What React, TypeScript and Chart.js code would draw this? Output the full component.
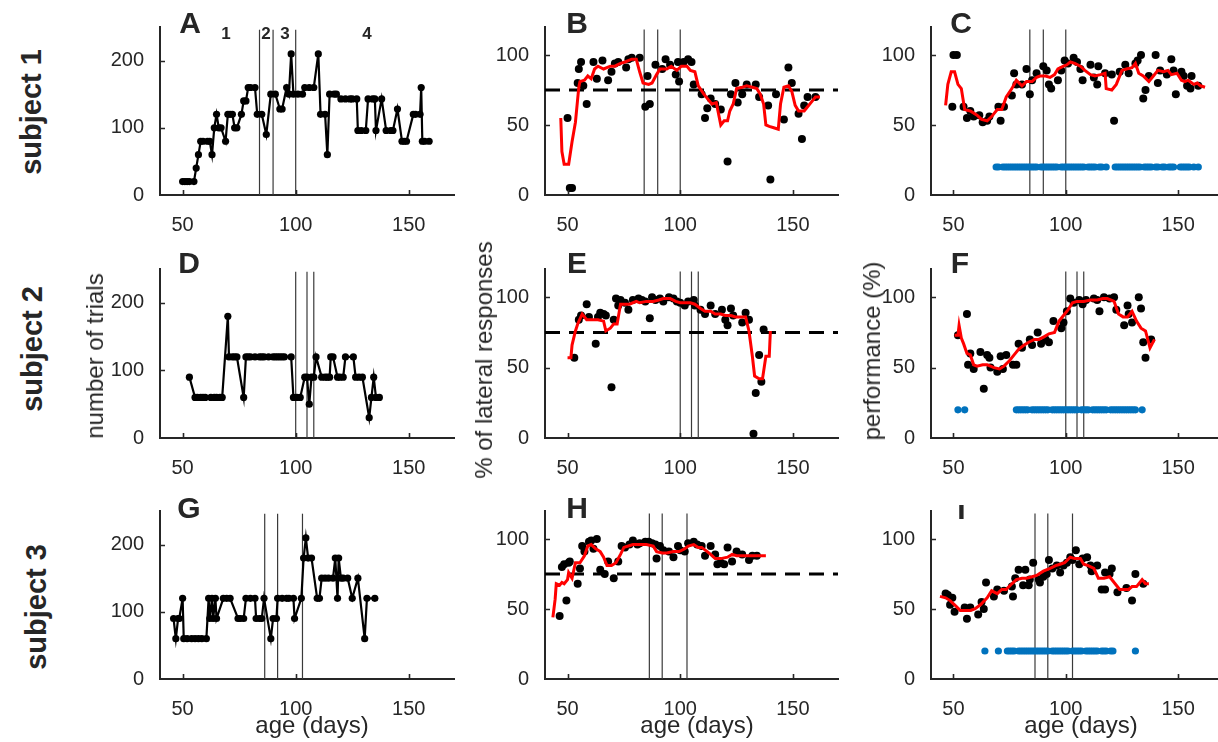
import { useEffect, useRef } from "react";
import { Chart, registerables } from "chart.js";

Chart.register(...registerables);

type Pt = [number, number];

// ---------------- data ----------------
const AGE_TICKS = [50, 100, 150];
const TRIAL_TICKS = [0, 100, 200];
const PCT_TICKS = [0, 50, 100];
const LATERAL_CRITERION = 75;
const MARK_LEVEL = 20;

// stage boundaries (age in days)
const boundsS1 = [84, 90, 100];
const boundsS2 = [100, 105, 108];
const boundsS3 = [86.3, 92, 103];

// number of trials per session
const trialsS1: Pt[] = [
  [50, 20], [51, 20], [52, 20], [53, 20], [55, 20], [56, 40], [57, 60], [58, 80], [59, 80], [61, 80],
  [62, 80], [63, 60], [64, 100], [65, 120], [66, 100], [67, 100], [69, 80], [70, 120], [71, 120], [72, 120],
  [73, 100], [74, 100], [76, 120], [77, 140], [78, 140], [79, 160], [80, 160], [82, 160], [83, 120], [85, 120],
  [87, 90], [89, 150], [91, 150], [93, 128], [94, 128], [96, 160], [97, 150], [98, 210], [99, 150], [101, 150],
  [103, 150], [104, 160], [106, 160], [108, 160], [110, 210], [111, 120], [113, 120], [114, 60], [115, 150],
  [117, 150], [118, 150], [120, 143], [122, 143], [124, 143], [125, 143], [127, 143], [127.5, 96], [129, 96],
  [131, 96], [132, 143], [134, 143], [135, 143], [135.5, 96], [138, 143], [140, 96], [142, 96], [143, 96],
  [145, 128], [147, 80], [148, 80], [149, 80], [152, 120], [153, 120], [155, 120], [155.5, 160], [156, 80],
  [157, 80], [159, 80],
];
const trialsS2: Pt[] = [
  [53, 90], [55.5, 60], [56.5, 60], [58, 60], [59, 60], [60, 60], [62.5, 60], [64, 60], [65, 60], [66.5, 60],
  [67.5, 60], [70, 180], [70.5, 120], [72, 120], [73, 120], [74, 120], [77, 60], [78, 120], [79, 120], [80, 120],
  [82, 120], [84, 120], [85, 120], [86, 120], [88, 120], [90, 120], [91, 120], [92, 120], [93, 120], [94, 120],
  [95, 120], [98, 120], [99, 60], [100.5, 60], [102, 60], [104, 90], [105, 90], [106, 50], [107, 90], [108, 90],
  [109, 120], [111.5, 90], [113, 90], [114, 90], [115, 90], [115.5, 120], [116.5, 120], [118.5, 90], [119.5, 90],
  [121, 90], [122, 120], [125.5, 120], [126.5, 90], [128, 90], [129.5, 90], [132.5, 30], [133.5, 60], [134.5, 90],
  [135.5, 60], [137, 60],
];
const trialsS3: Pt[] = [
  [46, 90], [47, 60], [48, 90], [48.5, 90], [50, 120], [50.5, 60], [52, 60], [54, 60], [55.5, 60], [57, 60],
  [58.5, 60], [60.5, 60], [61.5, 120], [62, 90], [63, 120], [63.5, 90], [64.5, 120], [65, 90], [68, 120],
  [69.5, 120], [71, 120], [74.5, 90], [75.5, 90], [77, 90], [78, 120], [80, 120], [82, 120], [82.5, 90], [84, 90],
  [85, 90], [86, 120], [89, 60], [90, 90], [91.5, 90], [92, 120], [94, 120], [96, 120], [97, 120], [99, 120],
  [99.5, 90], [102.5, 120], [103.5, 180], [104.5, 210], [105.5, 180], [107, 180], [109.5, 120], [110.5, 120],
  [111.5, 150], [113, 150], [114.5, 150], [116.5, 150], [117.5, 180], [118.5, 120], [119, 180], [120, 150],
  [121, 150], [123, 150], [125, 120], [127.5, 150], [130.5, 60], [131.5, 120], [135, 120],
];

// % of lateral responses: sessions and running average
const lateralS1: Pt[] = [
  [50, 55], [51, 5], [52, 5], [54.5, 80], [55, 90], [56, 95], [57, 78], [58.5, 65], [61.5, 95], [63, 83],
  [65.5, 96], [68, 82], [69.5, 88], [71, 94], [72.5, 95], [76, 91], [77, 97], [78.5, 98], [82, 98], [84.5, 63],
  [85.5, 85], [86.5, 65], [89, 93], [92, 90], [93.5, 97], [95.5, 93], [98, 86], [99, 95], [99.5, 81], [101.5, 95],
  [103.5, 97], [105, 95], [106, 79], [109.5, 72], [111, 55], [112, 62], [113.5, 69], [115.5, 65], [118, 61],
  [121, 24], [122.5, 72], [124.5, 80], [125.5, 66], [127.5, 72], [129.5, 79], [133.5, 79], [135, 70], [139, 64],
  [140, 11], [142.5, 72], [146, 54], [148, 91], [149.5, 80], [152.5, 58], [154, 40], [155, 64], [156.5, 70],
  [160, 70],
];
const lateralAvgS1: Pt[] = [
  [47, 55], [47.5, 31], [48.5, 22], [50.5, 22], [52, 38], [53.5, 52], [55, 77], [55.5, 81], [57.5, 82], [59, 85],
  [60.5, 83], [62, 90], [63.5, 92], [66, 90], [69, 92], [71, 92], [73.5, 94], [75.5, 95], [78.5, 97], [80.5, 97],
  [82, 88], [83.5, 80], [86, 79], [87.5, 80], [89.5, 86], [91, 90], [94, 90], [96, 92], [98.5, 89], [100.5, 92],
  [103, 92], [104.5, 89], [106.5, 88], [108, 78], [110.5, 72], [112, 69], [114, 65], [116, 66], [118, 50],
  [119.5, 53], [121, 53], [122, 60], [123.5, 65], [125, 76], [127.5, 77], [129.5, 78], [132, 77], [134, 76],
  [135.5, 72], [137, 65], [138, 50], [139.5, 49], [141.5, 48], [143.5, 47], [144.5, 65], [146, 77], [148, 78],
  [149.5, 74], [151, 64], [152.5, 60], [155, 60], [156.5, 63], [158, 66], [160, 70], [162, 70],
];
const lateralS2: Pt[] = [
  [53, 57], [55, 84], [56, 87], [58.5, 95], [59.5, 86], [62.5, 67], [63.5, 86], [64.5, 89], [66, 88], [67, 87],
  [69.5, 36], [70.5, 84], [71.5, 99], [72.5, 94], [73.5, 98], [75.5, 96], [77, 91], [79, 98], [81.5, 99], [83, 98],
  [84.5, 97], [86.5, 85], [87.5, 100], [89, 98], [91, 99], [92.5, 97], [95, 100], [97, 99], [98.5, 97], [100, 96],
  [102, 94], [103.5, 97], [106, 98], [106.5, 94], [109, 91], [111, 88], [113.5, 94], [115.5, 88], [118.5, 91],
  [120, 84], [121, 80], [122.5, 92], [123.5, 87], [127.5, 82], [129, 89], [130.5, 84], [132.5, 3], [133.5, 32],
  [135, 59], [136, 40], [137, 77],
];
const lateralAvgS2: Pt[] = [
  [50, 57], [51.5, 57], [52, 66], [53.5, 76], [54.5, 81], [56.5, 88], [58.5, 84], [60.5, 84], [63.5, 84], [66, 83],
  [67, 76], [69, 78], [70.5, 81], [72, 81], [73.5, 95], [75.5, 95], [77.5, 95], [80.5, 97], [82, 96], [85, 97],
  [88, 97], [90.5, 98], [92.5, 99], [95.5, 99], [98, 97], [100, 96], [102, 96], [104.5, 96], [106.5, 95], [109, 92],
  [111, 90], [113.5, 90], [115.5, 88], [118, 88], [120, 87], [122.5, 87], [124.5, 86], [126.5, 86], [129, 86],
  [130.5, 76], [132, 58], [133, 44], [135, 42], [136.5, 42], [138, 58], [139.5, 58], [140, 76],
];
const lateralS3: Pt[] = [
  [46.5, 45], [47.5, 80], [48.5, 82], [49.5, 56], [50.5, 83], [51, 84], [54.5, 68], [55.5, 79], [56.5, 95],
  [57.5, 91], [59.5, 98], [60.5, 99], [61.5, 93], [63, 100], [64.5, 78], [66.5, 75], [68, 84], [70.5, 72],
  [72.5, 84], [74, 95], [75.5, 94], [77.5, 96], [79, 99], [81, 96], [82, 97], [84.5, 98], [86, 98], [87.5, 97],
  [89, 96], [89.5, 86], [91, 95], [92.5, 92], [95, 91], [97, 87], [99, 95], [100, 92], [102, 91], [103.5, 97],
  [106, 98], [107.5, 96], [109.5, 95], [111, 88], [113.5, 95], [115.5, 89], [116.5, 82], [118, 83], [119.5, 82],
  [121, 94], [123, 84], [125, 91], [127.5, 89], [130.5, 85], [132, 88], [134, 88],
];
const lateralAvgS3: Pt[] = [
  [43.5, 44], [44.5, 57], [45, 68], [46.5, 67], [47.5, 69], [48.5, 68], [50, 71], [50.5, 76], [52, 72], [53.5, 83],
  [55.5, 83], [57.5, 88], [59, 95], [60.5, 96], [62.5, 93], [64.5, 91], [66, 87], [67.5, 81], [69.5, 81],
  [71.5, 83], [73.5, 89], [75, 94], [77, 95], [79, 96], [82, 96], [85, 96], [88, 95], [89.5, 91], [92, 90],
  [94, 90], [97, 91], [99.5, 91], [102, 93], [103.5, 95], [106, 96], [108, 94], [109.5, 94], [112, 91],
  [113.5, 89], [115.5, 86], [118, 86], [121, 87], [123, 89], [125, 88], [127.5, 88], [129.5, 88], [132, 88],
  [135, 88], [138, 88],
];

// performance (%): sessions and running average
const perfS1: Pt[] = [
  [50, 100], [51.5, 100], [49.5, 63], [54.5, 63], [56, 55], [57.5, 60], [59, 56], [61.5, 57], [63, 52], [65, 53],
  [66, 56], [70, 63], [71, 53], [72.5, 63], [76, 71], [77, 87], [78, 79], [80.5, 79], [82.5, 90], [84, 72],
  [85, 82], [87, 87], [90, 92], [91.5, 89], [92.5, 79], [93.5, 76], [96.5, 82], [98, 89], [99.5, 96], [101, 94],
  [103.5, 98], [105, 95], [106.5, 90], [107.5, 82], [111, 93], [112.5, 84], [114, 79], [114.5, 92], [117.5, 87],
  [120.5, 86], [121.5, 53], [124, 88], [126.5, 93], [128, 87], [131, 94], [132, 96], [133.5, 100], [134.5, 69],
  [135.5, 75], [137, 85], [140, 100], [141, 80], [142, 89], [145, 86], [147, 97], [148, 89], [149, 72],
  [151.5, 88], [152.5, 85], [154, 78], [155.5, 76], [156, 85], [159, 78],
];
const perfAvgS1: Pt[] = [
  [46.5, 64], [47.5, 79], [49, 88], [50.5, 88], [52, 79], [53.5, 76], [55, 61], [57.5, 60], [60.5, 57],
  [62.5, 54], [65, 53], [67, 56], [69.5, 61], [71.5, 61], [73.5, 70], [76, 76], [78, 82], [80.5, 78], [82.5, 81],
  [85, 81], [87, 84], [88.5, 85], [91, 85], [93, 84], [95, 86], [96.5, 90], [99, 92], [100.5, 93], [102, 95],
  [104, 94], [106.5, 92], [108.5, 89], [111, 86], [113, 85], [115.5, 86], [117.5, 87], [118, 76], [120.5, 75],
  [122.5, 79], [125, 89], [127, 90], [129.5, 91], [131, 94], [132.5, 87], [134.5, 85], [137, 81], [139, 85],
  [141, 89], [143.5, 88], [145.5, 89], [147, 86], [149.5, 87], [151.5, 82], [153, 81], [154.5, 82], [157, 79],
  [158.5, 80], [160, 78], [162, 77],
];
const perfS2: Pt[] = [
  [52, 73], [56, 88], [56.5, 52], [57.5, 60], [59, 49], [62, 61], [63.5, 35], [65, 59], [66, 57], [66.5, 50],
  [69.5, 47], [71, 58], [72, 49], [73.5, 59], [76.5, 52], [78, 52], [79, 67], [80.5, 64], [84, 70], [85, 66],
  [87.5, 75], [89, 67], [91, 70], [92.5, 68], [94.5, 83], [98, 78], [99, 82], [100.5, 90], [102, 99], [103.5, 96],
  [106, 98], [107.5, 95], [109, 98], [112.5, 99], [114, 98], [115, 90], [117, 100], [119.5, 99], [121.5, 100],
  [122.5, 91], [126, 80], [127.5, 94], [128, 88], [129.5, 82], [132.5, 100], [133.5, 92], [134.5, 68],
  [135.5, 57], [138, 70],
];
const perfAvgS2: Pt[] = [
  [50.5, 73], [52, 73], [52.5, 80], [53.5, 71], [54.5, 67], [56, 60], [57.5, 59], [59, 52], [60.5, 51], [63, 52],
  [65, 52], [66.5, 51], [68, 50], [70.5, 49], [72.5, 51], [75, 55], [77, 59], [79, 63], [81.5, 66], [83.5, 68],
  [86, 70], [88, 70], [90.5, 72], [92.5, 74], [95, 75], [97, 83], [99, 87], [101, 91], [103, 96], [105, 97],
  [108, 97], [111, 98], [114, 98], [116.5, 99], [118.5, 99], [121.5, 97], [123.5, 88], [125.5, 86], [127.5, 86],
  [129.5, 90], [131.5, 83], [133.5, 78], [135.5, 76], [137.5, 64], [139.5, 70],
];
const perfS3: Pt[] = [
  [46.5, 61], [47.5, 60], [48.5, 53], [49.5, 58], [50.5, 48], [55, 51], [56, 43], [57.5, 51], [61, 46],
  [62.5, 55], [63.5, 50], [64.5, 69], [68, 59], [69.5, 64], [72.5, 63], [76, 66], [76.5, 59], [77.5, 72], [79, 78],
  [81, 67], [82, 78], [83.5, 67], [84, 71], [85.5, 83], [88, 71], [88.5, 69], [90, 73], [91.5, 75], [92.5, 85],
  [94, 79], [96, 81], [97.5, 76], [99, 81], [100.5, 83], [102, 87], [103, 85], [104.5, 92], [106, 82], [107.5, 86],
  [109.5, 87], [111, 81], [111.5, 77], [114, 81], [116, 64], [117.5, 64], [117.5, 76], [119.5, 75], [120.5, 79],
  [123, 62], [127, 65], [129.5, 56], [131, 75], [134.5, 68],
];
const perfAvgS3: Pt[] = [
  [44, 59], [46.5, 58], [48.5, 56], [50.5, 53], [53, 49], [55, 49], [57.5, 49], [59.5, 50], [62, 53], [65, 58],
  [67, 63], [69.5, 61], [71.5, 64], [73.5, 64], [76, 68], [78, 71], [80.5, 72], [82.5, 72], [85, 73], [87, 74],
  [90, 77], [93, 79], [95.5, 81], [97.5, 82], [99.5, 83], [102, 87], [104, 86], [106.5, 86], [108, 82], [110, 81],
  [112.5, 79], [114.5, 72], [117, 72], [119.5, 73], [122.5, 67], [124, 64], [125.5, 64], [128, 64], [129.5, 66],
  [131.5, 66], [134, 71], [135.5, 68], [137, 68],
];

// sessions marked at the bottom of the performance panels
const markedS1 = [
  69, 70, 72, 73, 74, 75, 76, 77, 78, 79, 80, 81, 82, 83, 84, 85, 86, 87, 89, 90, 91, 92, 93, 94, 95, 96, 98, 99,
  100, 101, 102, 103, 104, 105, 106, 107, 108, 110, 111, 112, 113, 115, 116, 118, 122, 123, 124, 125, 126, 127,
  128, 129, 130, 131, 132, 133, 135, 136, 137, 138, 140, 141, 143, 144, 146, 147, 148, 151, 152, 153, 154, 155,
  157, 159,
];
const markedS2 = [
  52, 55, 78, 79, 80, 81, 82, 83, 85, 86, 87, 88, 89, 90, 91, 92, 94, 95, 96, 97, 98, 99, 100, 101, 102, 103, 104,
  105, 107, 108, 109, 110, 112, 113, 114, 115, 116, 117, 118, 120, 121, 122, 123, 124, 125, 126, 127, 128, 129,
  130, 131, 134,
];
const markedS3 = [
  64, 70, 74, 75, 76, 77, 79, 80, 81, 82, 83, 84, 85, 86, 87, 88, 89, 90, 91, 92, 94, 95, 96, 97, 98, 99, 100, 101,
  103, 104, 105, 106, 107, 109, 110, 111, 112, 113, 114, 116, 117, 118, 120, 121, 131,
];

// ---------------- styling / layout ----------------
const FONT = '"Liberation Sans", Arial, Helvetica, sans-serif';
const INK = "#262626";
const Y_AXIS_W = 70;
const X_AXIS_H = 40;
const PAD_T = 14;
const PAD_R = 14;
const COL_LEFT = [160, 545, 931];
const COL_WIDTH = [294, 293, 292];
const ROW_TOP = [21, 263, 505];
const ROW_HEIGHT = [174, 175, 174];

Chart.defaults.font.family = FONT;
Chart.defaults.color = INK;

const toXY = (pts: Pt[]) => pts.map(([x, y]) => ({ x, y }));

function boundaryLines(days: number[], top: number) {
  return days.map((d) => ({
    data: [{ x: d, y: 0 }, { x: d, y: top }],
    showLine: true,
    borderColor: "#3a3a3a",
    borderWidth: 1.2,
    pointRadius: 0,
  }));
}

function trialsSets(pts: Pt[], bounds: number[]) {
  return [
    {
      data: toXY(pts),
      showLine: true,
      borderColor: "#000",
      borderWidth: 2.2,
      pointRadius: 3.6,
      pointBackgroundColor: "#000",
      pointBorderWidth: 0,
    },
    ...boundaryLines(bounds, 246),
  ];
}

function redAverage(pts: Pt[]) {
  return {
    data: toXY(pts),
    showLine: true,
    borderColor: "#ff0000",
    borderWidth: 3,
    pointRadius: 0,
  };
}

function blackDots(pts: Pt[]) {
  return {
    data: toXY(pts),
    showLine: false,
    pointRadius: 4,
    pointBackgroundColor: "#000",
    pointBorderWidth: 0,
  };
}

function lateralSets(dots: Pt[], avg: Pt[], bounds: number[]) {
  return [
    redAverage(avg),
    blackDots(dots),
    {
      data: [{ x: 40, y: LATERAL_CRITERION }, { x: 170, y: LATERAL_CRITERION }],
      showLine: true,
      borderColor: "#000",
      borderWidth: 3,
      borderDash: [15, 9],
      pointRadius: 0,
    },
    ...boundaryLines(bounds, 118.2),
  ];
}

function perfSets(dots: Pt[], avg: Pt[], marked: number[], bounds: number[]) {
  return [
    redAverage(avg),
    blackDots(dots),
    {
      data: marked.map((d) => ({ x: d, y: MARK_LEVEL })),
      showLine: false,
      pointRadius: 3.6,
      pointBackgroundColor: "#0072BD",
      pointBorderWidth: 0,
    },
    ...boundaryLines(bounds, 118.2),
  ];
}

interface PanelSpec {
  row: number;
  col: number;
  yMax: number;
  yTicks: number[];
  datasets: any[];
}

const panels: PanelSpec[] = [
  { row: 0, col: 0, yMax: 250, yTicks: TRIAL_TICKS, datasets: trialsSets(trialsS1, boundsS1) },
  { row: 0, col: 1, yMax: 120, yTicks: PCT_TICKS, datasets: lateralSets(lateralS1, lateralAvgS1, boundsS1) },
  { row: 0, col: 2, yMax: 120, yTicks: PCT_TICKS, datasets: perfSets(perfS1, perfAvgS1, markedS1, boundsS1) },
  { row: 1, col: 0, yMax: 250, yTicks: TRIAL_TICKS, datasets: trialsSets(trialsS2, boundsS2) },
  { row: 1, col: 1, yMax: 120, yTicks: PCT_TICKS, datasets: lateralSets(lateralS2, lateralAvgS2, boundsS2) },
  { row: 1, col: 2, yMax: 120, yTicks: PCT_TICKS, datasets: perfSets(perfS2, perfAvgS2, markedS2, boundsS2) },
  { row: 2, col: 0, yMax: 250, yTicks: TRIAL_TICKS, datasets: trialsSets(trialsS3, boundsS3) },
  { row: 2, col: 1, yMax: 120, yTicks: PCT_TICKS, datasets: lateralSets(lateralS3, lateralAvgS3, boundsS3) },
  { row: 2, col: 2, yMax: 120, yTicks: PCT_TICKS, datasets: perfSets(perfS3, perfAvgS3, markedS3, boundsS3) },
];

// short tick marks pointing into the plot area
const inwardTicks = {
  id: "inwardTicks",
  afterDraw(chart: any) {
    const { ctx, chartArea: a, scales } = chart;
    ctx.save();
    ctx.strokeStyle = INK;
    ctx.lineWidth = 1.6;
    ctx.beginPath();
    for (const t of scales.x.ticks) {
      const px = Math.round(scales.x.getPixelForValue(t.value)) + 0.5;
      ctx.moveTo(px, a.bottom);
      ctx.lineTo(px, a.bottom - 5);
    }
    for (const t of scales.y.ticks) {
      if (t.value === 0) continue;
      const py = Math.round(scales.y.getPixelForValue(t.value)) + 0.5;
      ctx.moveTo(a.left, py);
      ctx.lineTo(a.left + 5, py);
    }
    ctx.stroke();
    ctx.restore();
  },
};

function Panel({ spec }: { spec: PanelSpec }) {
  const ref = useRef<HTMLCanvasElement>(null);
  const w = Y_AXIS_W + COL_WIDTH[spec.col] + PAD_R;
  const h = PAD_T + ROW_HEIGHT[spec.row] + X_AXIS_H;

  useEffect(() => {
    const chart = new Chart(ref.current!, {
      type: "scatter",
      data: { datasets: spec.datasets },
      plugins: [inwardTicks],
      options: {
        animation: false,
        responsive: false,
        events: [],
        layout: { padding: { top: PAD_T, right: PAD_R, left: 0, bottom: 0 } },
        plugins: { legend: { display: false }, tooltip: { enabled: false } },
        scales: {
          x: {
            type: "linear",
            min: 40,
            max: 170,
            afterBuildTicks: (s: any) => {
              s.ticks = AGE_TICKS.map((v) => ({ value: v }));
            },
            afterFit: (s: any) => {
              s.height = X_AXIS_H;
            },
            grid: { display: false },
            border: { display: true, width: 2, color: INK },
            ticks: { padding: 10, font: { size: 20 }, color: INK, maxRotation: 0, autoSkip: false },
          },
          y: {
            type: "linear",
            min: 0,
            max: spec.yMax,
            afterBuildTicks: (s: any) => {
              s.ticks = spec.yTicks.map((v) => ({ value: v }));
            },
            afterFit: (s: any) => {
              s.width = Y_AXIS_W;
            },
            grid: { display: false },
            border: { display: true, width: 2, color: INK },
            ticks: { padding: 8, font: { size: 20 }, color: INK, autoSkip: false },
          },
        },
      } as any,
    });
    return () => chart.destroy();
  }, [spec]);

  return (
    <canvas
      ref={ref}
      width={w}
      height={h}
      style={{
        position: "absolute",
        left: COL_LEFT[spec.col] - Y_AXIS_W,
        top: ROW_TOP[spec.row] - PAD_T,
        width: w,
        height: h,
      }}
    />
  );
}

function Label(props: { x: number; y: number; text: string; size: number; bold?: boolean; rotate?: boolean }) {
  const { x, y, text, size, bold, rotate } = props;
  return (
    <div
      style={{
        position: "absolute",
        left: x,
        top: y,
        transform: `translate(-50%, -50%)${rotate ? " rotate(-90deg)" : ""}`,
        fontFamily: FONT,
        fontSize: size,
        fontWeight: bold ? 700 : 400,
        lineHeight: 1,
        whiteSpace: "nowrap",
        color: INK,
      }}
    >
      {text}
    </div>
  );
}

export default function App() {
  return (
    <div
      style={{
        position: "fixed",
        left: 0,
        top: 0,
        width: 1218,
        height: 742,
        overflow: "hidden",
        background: "#ffffff",
      }}
    >
      {panels.map((p, i) => (
        <Panel key={i} spec={p} />
      ))}

      <Label x={31} y={112} text="subject 1" size={29} bold rotate />
      <Label x={32} y={349} text="subject 2" size={29} bold rotate />
      <Label x={36} y={607} text="subject 3" size={29} bold rotate />

      <Label x={95} y={356} text="number of trials" size={24} rotate />
      <Label x={484} y={360} text="% of lateral responses" size={24} rotate />
      <Label x={872} y={351} text="performance (%)" size={24} rotate />

      <Label x={312} y={725} text="age (days)" size={24} />
      <Label x={697} y={725} text="age (days)" size={24} />
      <Label x={1081} y={725} text="age (days)" size={24} />

      <Label x={190} y={23} text="A" size={30} bold />
      <Label x={577} y={23} text="B" size={30} bold />
      <Label x={961} y={23} text="C" size={30} bold />
      <Label x={189} y={263} text="D" size={30} bold />
      <Label x={577} y={263} text="E" size={30} bold />
      <Label x={960} y={263} text="F" size={30} bold />
      <Label x={189} y={508} text="G" size={30} bold />
      <Label x={577} y={508} text="H" size={30} bold />
      {/* panel I's letter is cut off at the top edge of its axes */}
      <div style={{ position: "absolute", left: 940, top: 505, width: 44, height: 30, overflow: "hidden" }}>
        <Label x={21.5} y={3.5} text="I" size={30} bold />
      </div>

      <Label x={226} y={33} text="1" size={17} bold />
      <Label x={266} y={33} text="2" size={17} bold />
      <Label x={285} y={33} text="3" size={17} bold />
      <Label x={367} y={33} text="4" size={17} bold />
    </div>
  );
}
